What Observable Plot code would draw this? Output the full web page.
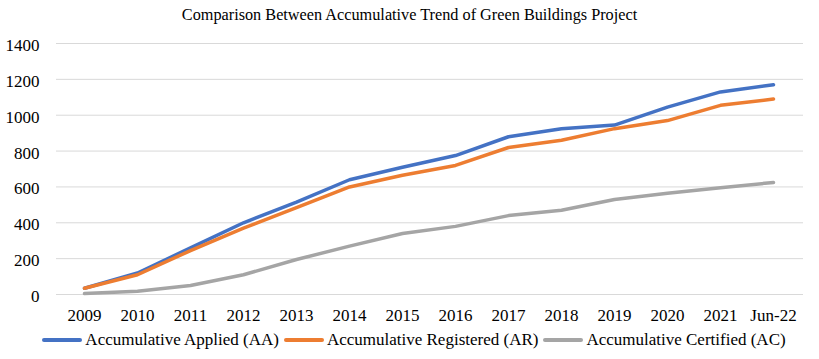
<!DOCTYPE html>
<html>
<head>
<meta charset="utf-8">
<script src="https://cdn.jsdelivr.net/npm/d3@7"></script>
<script src="https://cdn.jsdelivr.net/npm/@observablehq/plot@0.6"></script>
<style>
  html, body { margin: 0; padding: 0; background: #fff; }
  #wrap, #wrap * { font-family: "Liberation Serif", "DejaVu Serif", serif; }
  #wrap { width: 819px; height: 359px; position: relative; overflow: hidden; color: #000; }
  #title { height: 30px; line-height: 30px; text-align: center; font-size: 16.25px; }
  #chart svg { display: block; }
  #legend { display: flex; justify-content: center; align-items: center; gap: 5px; height: 34px; margin-left: 9px; font-size: 17px; margin-top: -2px; }
  .item { display: flex; align-items: center; gap: 3px; }
  .swatch { width: 40px; height: 4px; border-radius: 2px; }
</style>
</head>
<body>
<div id="wrap">
  <div id="title"></div>
  <div id="chart"></div>
  <div id="legend"></div>
</div>
<script>
const titleText = "Comparison Between Accumulative Trend of Green Buildings Project";
const categories = ["2009","2010","2011","2012","2013","2014","2015","2016","2017","2018","2019","2020","2021","Jun-22"];
const applied    = [35, 120, 260, 400, 515, 640, 710, 775, 880, 925, 945, 1045, 1130, 1170];
const registered = [35, 110, 245, 370, 485, 600, 665, 720, 820, 860, 925, 970, 1055, 1090];
const certified  = [5, 18, 50, 110, 195, 270, 340, 380, 440, 470, 530, 565, 595, 625];
const seriesNames = ["Accumulative Applied (AA)", "Accumulative Registered (AR)", "Accumulative Certified (AC)"];
const seriesColors = ["#4472C4", "#ED7D31", "#A5A5A5"];
const yTicks = [0, 200, 400, 600, 800, 1000, 1200, 1400];

const seriesValues = [applied, registered, certified];
const data = [];
seriesValues.forEach((vals, s) => {
  vals.forEach((v, i) => data.push({category: categories[i], value: v, series: seriesNames[s]}));
});

document.getElementById("title").textContent = titleText;

const serif = '"Liberation Serif", "DejaVu Serif", serif';
const plot = Plot.plot({
  width: 819,
  height: 295,
  marginTop: 13,
  marginBottom: 31,
  marginLeft: 56,
  marginRight: 16,
  style: `font-family: ${serif}; font-size: 17px; color: #000; background: #fff;`,
  x: {type: "point", domain: categories, range: [81, 776], padding: 0, label: null},
  y: {domain: [0, 1400], label: null},
  color: {domain: seriesNames, range: seriesColors},
  marks: [
    Plot.ruleY(yTicks, {stroke: "#d9d9d9", strokeWidth: 1}),
    Plot.axisY(yTicks, {tickSize: 0, tickPadding: 17, fontSize: 17, fontFamily: serif, dy: 2, label: null, tickFormat: d => String(d)}),
    Plot.axisX(categories, {tickSize: 0, tickPadding: 14, fontSize: 17, fontFamily: serif, label: null}),
    Plot.line(data, {x: "category", y: "value", z: "series", stroke: "series", strokeWidth: 3.5, strokeLinecap: "round", strokeLinejoin: "round"})
  ]
});
document.getElementById("chart").appendChild(plot);

const legend = document.getElementById("legend");
seriesNames.forEach((name, i) => {
  const item = document.createElement("div");
  item.className = "item";
  const sw = document.createElement("div");
  sw.className = "swatch";
  sw.style.background = seriesColors[i];
  const label = document.createElement("span");
  label.textContent = name;
  item.appendChild(sw);
  item.appendChild(label);
  legend.appendChild(item);
});
</script>
</body>
</html>
